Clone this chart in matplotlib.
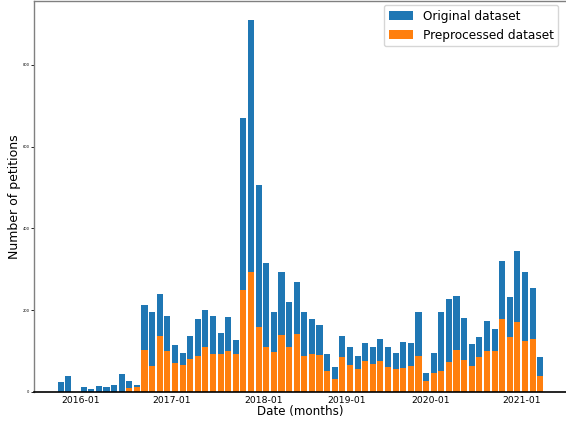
import numpy as np
import matplotlib
matplotlib.use("Agg")
import matplotlib.pyplot as plt

# monthly counts (2018-08 and 2019-08 are absent from the data)
months = (["2015-10", "2015-11", "2015-12"]
          + [f"2016-{m:02d}" for m in range(1, 13)]
          + [f"2017-{m:02d}" for m in range(1, 13)]
          + [f"2018-{m:02d}" for m in range(1, 13) if m != 8]
          + [f"2019-{m:02d}" for m in range(1, 13) if m != 8]
          + [f"2020-{m:02d}" for m in range(1, 13)]
          + ["2021-01", "2021-02", "2021-03"])

original = [23, 38, 0,
            11, 6, 14, 11, 16, 43, 26, 16, 212, 195, 239, 185,
            114, 95, 136, 178, 200, 185, 144, 183, 127, 671, 911, 507,
            315, 195, 293, 220, 269, 195, 178, 163, 92, 60, 136,
            109, 87, 119, 109, 129, 109, 95, 122, 119, 195, 46,
            95, 195, 227, 234, 181, 117, 134, 173, 154, 320, 232, 345,
            293, 254, 85]

preprocessed = [0, 0, 0,
                0, 0, 0, 0, 0, 0, 10, 11, 102, 63, 136, 100,
                70, 65, 80, 87, 109, 92, 92, 100, 92, 249, 293, 158,
                109, 97, 139, 109, 141, 87, 92, 90, 51, 31, 85,
                65, 56, 75, 68, 75, 60, 56, 58, 63, 87, 26,
                46, 51, 73, 102, 78, 63, 85, 100, 100, 178, 134, 171,
                124, 129, 38]

x = np.arange(len(months))

fig = plt.figure(figsize=(5.66, 4.23), dpi=100)
ax = fig.add_axes([0.0592, 0.074, 0.9435, 0.9236])

ax.bar(x, original, width=0.8, align='edge', color='#1f77b4', label='Original dataset')
ax.bar(x, preprocessed, width=0.8, align='edge', color='#ff7f0e', label='Preprocessed dataset')

ticks = [i for i, m in enumerate(months) if m.endswith("-01")]
ax.set_xticks(ticks)
ax.set_xticklabels([months[i] for i in ticks], fontsize=6.7)
ax.tick_params(axis='x', length=0, pad=3)
ax.tick_params(axis='y', labelsize=2.6, length=2, width=0.6, pad=1)

ax.set_xlabel('Date (months)', fontsize=8.6, labelpad=0)
ax.set_ylabel('Number of petitions', fontsize=9, labelpad=1)

for side in ['left', 'top', 'right']:
    ax.spines[side].set_color('#808080')
    ax.spines[side].set_linewidth(1.0)
ax.spines['bottom'].set_color('black')
ax.spines['bottom'].set_linewidth(1.2)

ax.legend(loc='upper right', fontsize=8.7, bbox_to_anchor=(0.994, 1.006))

fig.savefig('out.png', dpi=100)
